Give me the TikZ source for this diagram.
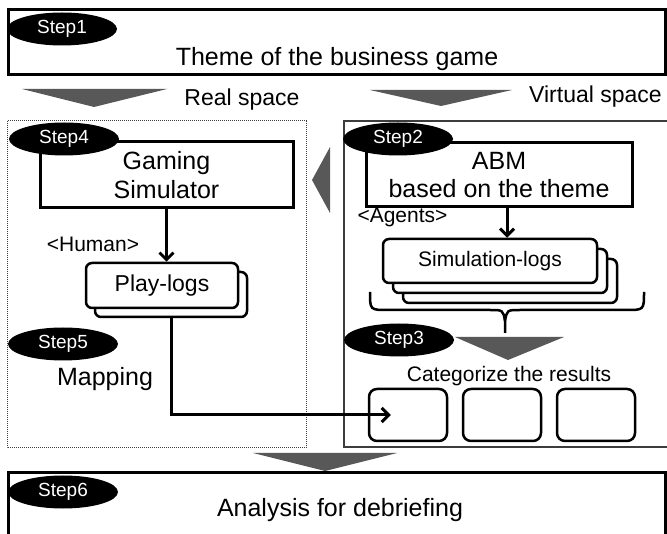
\documentclass[tikz,border=0pt]{standalone}
\usepackage{fontspec}
\setmainfont{Liberation Sans}
\usetikzlibrary{shapes.geometric, arrows.meta, positioning}
\definecolor{arrowgray}{RGB}{88,88,88}
\definecolor{panelgray}{RGB}{60,60,60}
\newcommand{\bigtxt}{\fontsize{25}{28.5}\selectfont}
\newcommand{\midtxt}{\fontsize{23}{26}\selectfont}
\newcommand{\smalltxt}{\fontsize{21}{24}\selectfont}

\begin{document}
\begin{tikzpicture}[x=1pt, y=-1pt,
    stepmark/.style={ellipse, fill=black, text=white, minimum width=110pt, minimum height=33pt, inner sep=0pt, font=\fontsize{19}{19}\selectfont},
    framebox/.style={draw, line width=3pt, inner sep=0pt},
    logbox/.style={draw, fill=white, line width=2.5pt, rounded corners=6pt, inner sep=0pt},
    resbox/.style={draw, line width=2.5pt, rounded corners=8pt, minimum width=78pt, minimum height=52pt},
    flow/.style={line width=3pt, -{Straight Barb[length=7pt, width=14pt]}},
    shade/.style={fill=arrowgray}]
    \clip (0,0) rectangle (667,534);
    \fill[white] (0,0) rectangle (667,534);

    % Step 1: theme bar at top
    \node[framebox, minimum width=657pt, minimum height=65pt] (themebox) at (336.5,42.5) {};
    \node[font=\bigtxt, anchor=base] (theme) at (337,66) {Theme of the business game};
    \node[stepmark] (step1) at (62,29) {Step1};

    % Arrows down into the two spaces
    \fill[shade] (22,89) -- (167,89) -- (94,107) -- cycle;
    \fill[shade] (370,90) -- (512,90) -- (441,106) -- cycle;
    \node[font=\midtxt, anchor=base] (realsp) at (242,106) {Real space};
    \node[font=\midtxt, anchor=base west, inner sep=0pt] (virtsp) at (529,103) {Virtual space};

    % Panels
    \draw[panelgray, line width=1pt, densely dotted] (7,121) rectangle (306,448);
    \draw[panelgray, line width=1.5pt] (344,121) rectangle (680,447);

    % Real space: Step 4 and 5
    \node[framebox, minimum width=253pt, minimum height=66pt, font=\bigtxt, align=center] (gaming) at (166.5,175) {Gaming\\Simulator};
    \node[stepmark] (step4) at (64,139) {Step4};
    \node[font=\smalltxt, anchor=base] (human) at (93,252) {<Human>};
    \node[logbox, minimum width=152pt, minimum height=45pt] (playback) at (171,294.5) {};
    \node[logbox, minimum width=152pt, minimum height=45pt, font=\midtxt] (play) at (162,285.5) {Play-logs};
    \node[stepmark] (step5) at (63,344) {Step5};
    \node[font=\bigtxt, anchor=base] (mapping) at (105,386) {Mapping};

    % Virtual space: Step 2 and 3
    \node[framebox, minimum width=266pt, minimum height=64pt, font=\bigtxt, align=center] (abm) at (499,175) {ABM\\based on the theme};
    \node[stepmark] (step2) at (398,139) {Step2};
    \node[font=\smalltxt, anchor=base] (agents) at (402.5,223) {<Agents>};
    \node[logbox, minimum width=214pt, minimum height=44pt] (simC) at (510,281) {};
    \node[logbox, minimum width=214pt, minimum height=44pt] (simB) at (500,271) {};
    \node[logbox, minimum width=214pt, minimum height=44pt, font=\smalltxt] (simA) at (490,261) {Simulation-logs};
    % brace under the logs
    \draw[line width=2.5pt] (370,292) .. controls (370,310) .. (388,310) -- (490,310) .. controls (503,310) .. (505,321) -- (505,333);
    \draw[line width=2.5pt] (505,321) .. controls (507,310) .. (520,310) -- (626,310) .. controls (644,310) .. (644,292);
    \node[stepmark] (step3) at (399,340) {Step3};
    \fill[shade] (455,337) -- (564,337) -- (508,360) -- cycle;
    \node[font=\smalltxt, anchor=base] (categ) at (509,382) {Categorize the results};
    \node[resbox] (resA) at (408,415) {};
    \node[resbox] (resB) at (502,415) {};
    \node[resbox] (resC) at (596,415) {};

    % Back from virtual to real space
    \fill[shade] (312,180) -- (330,147) -- (330,213) -- cycle;

    % Connectors
    \draw[flow] (gaming.south) -- (gaming.south |- play.north);
    \draw[flow] ([xshift=8pt]abm.south) -- ([xshift=8pt]abm.south |- simA.north);
    \draw[flow] (playback.south) |- ([xshift=23pt]resA.west);

    % Step 6: debriefing
    \fill[shade] (253,453) -- (397,453) -- (325,471) -- cycle;
    \node[framebox, minimum width=657pt, minimum height=80pt] (debriefbox) at (336.5,513) {};
    \node[font=\bigtxt, anchor=base] (debrief) at (340,516) {Analysis for debriefing};
    \node[stepmark] (step6) at (63,492) {Step6};
\end{tikzpicture}
\end{document}
